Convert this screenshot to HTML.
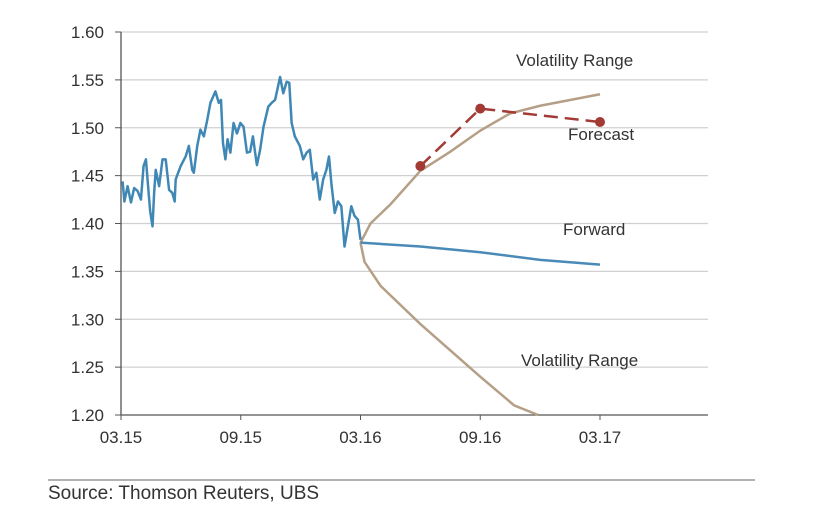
<!DOCTYPE html>
<html><head><meta charset="utf-8"><style>
body{margin:0;background:#fff;width:837px;height:517px;overflow:hidden;font-family:"Liberation Sans",sans-serif}
svg text{font-family:"Liberation Sans",sans-serif;fill:#333}
</style></head><body>
<svg width="837" height="517">
<g id="grid"></g><g id="axes"></g><g id="series"></g>
<text x="516" y="66" font-size="17">Volatility Range</text>
<text x="568" y="140" font-size="17">Forecast</text>
<text x="563" y="235" font-size="17">Forward</text>
<text x="521" y="366" font-size="17">Volatility Range</text>
<line x1="48" y1="480" x2="755" y2="480" stroke="#666" stroke-width="1"/>
<text x="48" y="499" font-size="19" fill="#222">Source: Thomson Reuters, UBS</text>
</svg>
<script>
const yTicks=[1.20,1.25,1.30,1.35,1.40,1.45,1.50,1.55,1.60];
const xTickLabels=["03.15","09.15","03.16","09.16","03.17"];
const xTickMonths=[0,6,12,18,24];
const histMonths=[0.08,0.17,0.33,0.5,0.66,0.83,1.0,1.13,1.25,1.33,1.46,1.58,1.66,1.74,1.91,2.08,2.24,2.41,2.57,2.69,2.74,2.99,3.24,3.40,3.57,3.65,3.82,3.98,4.15,4.32,4.48,4.73,4.90,5.01,5.11,5.23,5.34,5.48,5.64,5.81,5.98,6.14,6.31,6.47,6.61,6.72,6.81,6.97,7.14,7.38,7.55,7.72,7.97,8.13,8.30,8.43,8.55,8.71,8.96,9.13,9.30,9.46,9.63,9.79,9.96,10.13,10.29,10.42,10.54,10.71,10.87,11.04,11.20,11.37,11.54,11.70,11.87,12.0];
const histValues=[1.444,1.423,1.439,1.422,1.437,1.434,1.425,1.460,1.467,1.446,1.413,1.397,1.432,1.456,1.439,1.467,1.467,1.435,1.432,1.423,1.446,1.460,1.470,1.481,1.456,1.453,1.481,1.498,1.491,1.508,1.526,1.538,1.526,1.529,1.484,1.467,1.488,1.474,1.505,1.494,1.505,1.501,1.474,1.475,1.491,1.474,1.461,1.477,1.501,1.522,1.526,1.529,1.553,1.536,1.548,1.547,1.505,1.491,1.481,1.467,1.474,1.477,1.446,1.453,1.425,1.446,1.456,1.470,1.442,1.411,1.423,1.418,1.376,1.397,1.418,1.408,1.404,1.383];
const fwdMonths=[12,15,18,21,24];
const fwdValues=[1.380,1.376,1.370,1.362,1.357];
const upMonths=[12,12.5,13.5,15,16.5,18,19.5,21,24];
const upValues=[1.38,1.40,1.42,1.455,1.475,1.497,1.515,1.523,1.535];
const lowMonths=[12,12.2,13,15,18,19.7,20.9];
const lowValues=[1.38,1.36,1.335,1.295,1.24,1.21,1.20];
const fcMonths=[15,18,24];
const fcValues=[1.46,1.52,1.506];

const NS="http://www.w3.org/2000/svg";
const X=m=>121+m*(600-121)/24;
const Y=v=>415-(v-1.20)*(415-32)/0.40;
function mk(tag,attrs,parent){const e=document.createElementNS(NS,tag);for(const k in attrs)e.setAttribute(k,attrs[k]);document.getElementById(parent).appendChild(e);return e;}
yTicks.forEach(t=>{
  if(t>1.2){const g=mk('line',{x1:121,x2:708,y1:Y(t),y2:Y(t),stroke:'#d0d0d0','stroke-width':1.2},'grid');
  
  }
  const tk=mk('line',{x1:115,x2:121,y1:Y(t),y2:Y(t),stroke:'#555'},'axes');
  
  
  const tx=mk('text',{x:104,y:Y(t)+6,'text-anchor':'end','font-size':17},'axes');tx.textContent=t.toFixed(2);
  
  
});
const ya=mk('line',{x1:121,x2:121,y1:Y(1.6),y2:415,stroke:'#555','stroke-width':1.3},'axes');


const xa=mk('line',{x1:121,x2:708,y1:415,y2:415,stroke:'#555','stroke-width':1.3},'axes');


xTickMonths.forEach((m,i)=>{
  const tk=mk('line',{x1:X(m),x2:X(m),y1:415,y2:420,stroke:'#555'},'axes');
  
  
  const tx=mk('text',{x:X(m),y:443,'text-anchor':'middle','font-size':17},'axes');tx.textContent=xTickLabels[i];
  
  
});
function line(ms,vs,attrs){return mk('polyline',Object.assign({points:ms.map((m,i)=>X(m)+','+Y(vs[i])).join(' '),fill:'none'},attrs),'series');}
const u=line(upMonths,upValues,{stroke:'#b59f86','stroke-width':2.5});


const l=line(lowMonths,lowValues,{stroke:'#b59f86','stroke-width':2.5});


const f=line(fwdMonths,fwdValues,{stroke:'#4a8ab8','stroke-width':2.5});


const h=line(histMonths,histValues,{stroke:'#3f88b5','stroke-width':2.5,'stroke-linejoin':'round'});


const fc=line(fcMonths,fcValues,{stroke:'#a33a35','stroke-width':2.5,'stroke-dasharray':'14,7'});


fcMonths.forEach((m,i)=>{const c=mk('circle',{cx:X(m),cy:Y(fcValues[i]),r:5,fill:'#a33a35'},'series');
  
  });
</script>
</body></html>
